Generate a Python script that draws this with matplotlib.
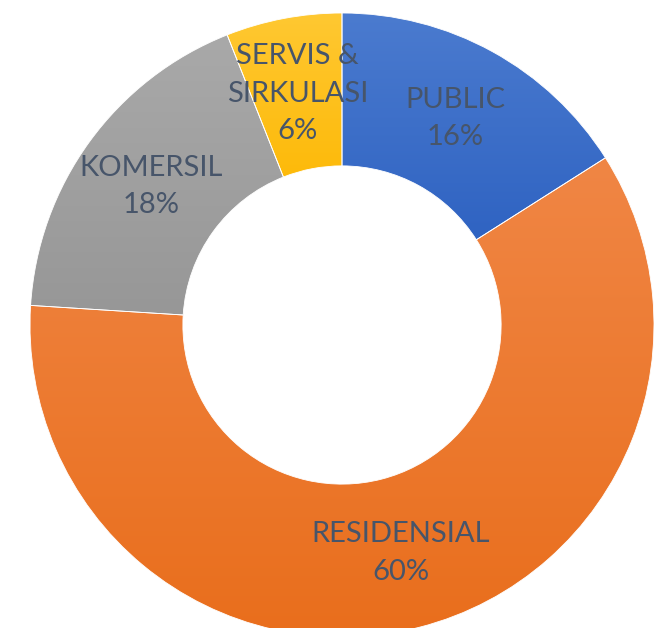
import numpy as np
import matplotlib
matplotlib.use("Agg")
import matplotlib.pyplot as plt
from matplotlib.colors import LinearSegmentedColormap

# Share of floor area per function
categories = ["PUBLIC", "RESIDENSIAL", "KOMERSIL", "SERVIS &\nSIRKULASI"]
shares = [16, 60, 18, 6]

# Each slice is shaded top (light) to bottom (dark)
top_colors = ["#4B7BCF", "#F08645", "#A9A9A9", "#FFC832"]
bottom_colors = ["#2F63C2", "#E96E1C", "#979797", "#FDBA0A"]

W, H = 661, 628
fig = plt.figure(figsize=(W / 100, H / 100), dpi=100)
fig.patch.set_facecolor("white")

cx, cy, R = 342, 325, 312
ax = fig.add_axes([(cx - R) / W, (H - cy - R) / H, 2 * R / W, 2 * R / H])
ax.set_xlim(-1, 1)
ax.set_ylim(-1, 1)
ax.axis("off")

ring = 0.49
wedges, _ = ax.pie(shares, startangle=90, counterclock=False, radius=1.0,
                   wedgeprops=dict(width=ring, edgecolor="none", facecolor="none"))

grad = np.linspace(0, 1, 256).reshape(-1, 1)
for w, c0, c1 in zip(wedges, top_colors, bottom_colors):
    cmap = LinearSegmentedColormap.from_list("g", [c1, c0])
    bb = w.get_path().get_extents(w.get_transform())
    inv = ax.transData.inverted()
    (x0, y0), (x1, y1) = inv.transform([[bb.x0, bb.y0], [bb.x1, bb.y1]])
    im = ax.imshow(grad, cmap=cmap, extent=[x0, x1, y0, y1], origin="lower",
                   aspect="auto", interpolation="bicubic", zorder=1)
    im.set_clip_path(w)
    w.set_zorder(2)
    w.set_edgecolor("#FFFFFF")
    w.set_linewidth(0.6)
ax.set_xlim(-1, 1)
ax.set_ylim(-1, 1)

# Labels in the middle of the ring
mid_r = 1 - ring / 2
total = sum(shares)
start = 90.0
for name, val in zip(categories, shares):
    span = 360.0 * val / total
    ang = np.deg2rad(start - span / 2)
    start -= span
    ax.text(mid_r * np.cos(ang), mid_r * np.sin(ang), f"{name}\n{val}%",
            ha="center", va="center", fontsize=21, color="#47556A",
            family=["Lato", "DejaVu Sans"], linespacing=1.55, zorder=5)

fig.savefig("out.png", dpi=100, facecolor="white")
